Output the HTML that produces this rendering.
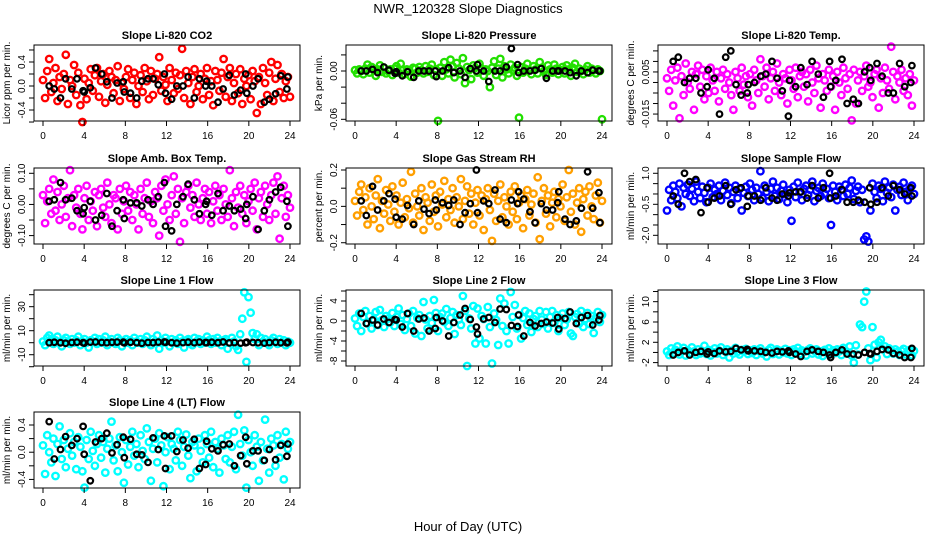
<!DOCTYPE html>
<html><head><meta charset="utf-8"><style>
html,body{margin:0;padding:0;background:#fff;}
svg{display:block;font-family:"Liberation Sans",sans-serif;}
</style></head><body>
<svg id="chart" width="936" height="540" viewBox="0 0 936 540" xmlns="http://www.w3.org/2000/svg">
<rect width="936" height="540" fill="#fff"/>
<text x="468" y="13" text-anchor="middle" font-size="13">NWR_120328  Slope Diagnostics</text>
<text x="468" y="531" text-anchor="middle" font-size="13">Hour of Day (UTC)</text>
</svg>
<script>
const xTicks=[0,4,8,12,16,20,24];
const blackHours=[0.6,1.1,1.7,2.2,2.8,3.3,3.9,4.0,4.6,5.1,5.7,6.2,6.7,7.2,7.8,7.9,8.5,9.1,9.6,10.2,10.7,11.2,11.8,11.9,12.5,13.0,13.6,14.1,14.7,15.2,15.8,15.9,16.4,17.0,17.5,18.1,18.6,19.2,19.7,19.8,20.4,20.9,21.5,22.0,22.6,23.1,23.7,23.8];
const titles=["Slope Li-820 CO2","Slope Li-820 Pressure","Slope Li-820 Temp.","Slope Amb. Box Temp.","Slope Gas Stream RH","Slope Sample Flow","Slope Line 1 Flow","Slope Line 2 Flow","Slope Line 3 Flow","Slope Line 4 (LT) Flow"];
const yTitles=["Licor ppm per min.","kPa per min.","degrees C per min.","degrees C per min.","percent per min.","ml/min per min.","ml/min per min.","ml/min per min.","ml/min per min.","ml/min per min."];
const yTickVals=[[-0.6,-0.4,-0.2,0,0.2,0.4,0.6],[-0.06,-0.04,-0.02,0,0.02],[-0.015,-0.01,-0.005,0,0.005,0.01,0.015],[-0.1,-0.05,0,0.05,0.1],[-0.2,-0.1,0,0.1,0.2],[-2,-1.5,-1,-0.5,0,0.5,1],[-20,-10,0,10,20,30,40],[-8,-6,-4,-2,0,2,4,6],[-2,0,2,4,6,8,10,12],[-0.4,-0.2,0,0.2,0.4]];
const yTickLabels=[["-0.4","0.0","0.4"],["-0.06","0.00"],["-0.015","0.005"],["-0.10","0.00","0.10"],["-0.2","0.0","0.2"],["-2.0","-0.5","1.0"],["-10","10","30"],["-8","-4","0","4"],["-2","2","6","10"],["-0.4","0.0","0.4"]];
const yLimits=[[-0.583,0.683],[-0.0621,0.0323],[-0.0183,0.0178],[-0.127,0.117],[-0.207,0.211],[-2.42,1.256],[-19.4,43.9],[-9.0,6.2],[-2.67,12.3],[-0.526,0.591]];
const colors=["#ff0000","#22e000","#ff00ff","#ff00ff","#ff9f00","#0000ff","#00ffff","#00ffff","#00ffff","#00ffff"];
const co2Vals=[0.1,-0.2,0.25,0.45,-0.1,0.05,0.3,-0.25,0.15,-0.05,0.2,0.52,-0.3,0.1,0.0,0.35,-0.15,0.22,-0.32,-0.6,0.12,-0.22,0.05,0.28,-0.08,0.18,0.3,-0.18,0.08,0.2,-0.28,0.02,0.25,0.15,-0.12,0.1,0.33,-0.25,0.05,-0.05,0.15,0.28,-0.2,0.1,0.22,-0.3,0.0,0.18,-0.1,0.3,0.08,-0.22,0.25,-0.15,0.12,0.2,0.48,-0.08,0.15,0.02,-0.25,0.3,0.1,-0.12,0.22,-0.05,0.18,0.62,-0.2,0.25,0.05,-0.3,0.15,0.28,-0.1,0.0,0.2,-0.22,0.12,0.3,-0.15,0.08,-0.32,0.25,0.1,-0.08,0.22,0.45,-0.18,0.15,0.3,-0.25,0.05,0.2,-0.12,0.28,-0.3,0.12,0.0,0.18,-0.22,0.25,0.08,-0.45,0.15,-0.3,0.3,0.05,-0.15,0.22,0.4,-0.25,0.12,0.35,-0.1,0.2,-0.2,0.08,0.15,-0.18];
const pressVals=[0.001,-0.003,0.002,0.0,-0.004,0.003,0.008,-0.002,0.005,0.001,-0.006,0.002,0.007,-0.001,0.004,-0.003,0.0,0.002,-0.005,0.003,0.006,-0.002,0.009,0.001,-0.004,0.002,0.0,-0.007,0.004,0.003,-0.002,0.005,0.001,-0.003,0.006,-0.001,0.003,0.008,-0.005,0.002,-0.062,0.004,-0.006,0.011,0.002,-0.003,0.014,0.006,-0.008,0.01,0.003,-0.004,0.016,-0.015,0.005,0.001,-0.01,0.007,0.004,-0.002,0.009,0.003,-0.006,0.002,0.0,-0.02,0.004,0.012,-0.005,0.003,0.015,-0.008,0.006,0.002,-0.003,0.008,0.001,0.004,-0.006,-0.058,0.005,-0.002,0.003,0.009,0.001,-0.004,0.006,0.002,-0.003,0.011,0.004,0.0,-0.005,0.007,0.002,-0.002,0.008,0.003,-0.004,0.001,0.005,-0.003,0.007,0.002,-0.006,0.004,0.009,-0.001,0.003,0.0,-0.004,0.002,0.006,-0.002,0.003,0.001,-0.003,0.002,0.0,-0.06];
const licorTempVals=[0.002,-0.004,0.006,-0.011,0.001,0.007,-0.017,0.003,-0.006,0.009,0.0,-0.003,0.005,-0.013,0.004,0.008,-0.002,0.006,-0.008,0.003,-0.005,0.007,0.001,-0.004,0.005,-0.009,0.002,0.006,-0.003,0.004,0.0,-0.006,-0.013,0.005,0.002,-0.004,0.007,-0.001,0.003,-0.007,0.004,-0.011,0.006,0.001,-0.005,0.011,0.003,-0.002,0.007,-0.008,0.002,0.005,-0.004,0.009,0.0,-0.006,0.004,0.002,-0.01,0.006,0.001,-0.003,0.007,-0.007,0.003,0.005,-0.002,0.004,-0.009,0.006,0.0,-0.005,0.008,0.002,-0.012,0.004,0.001,-0.004,0.006,-0.002,0.003,-0.013,0.005,0.0,-0.006,0.007,0.002,-0.003,0.004,-0.018,0.006,-0.01,0.001,0.005,-0.004,0.003,0.008,-0.002,0.0,-0.007,0.004,0.006,-0.012,0.002,-0.005,0.007,0.001,-0.003,0.017,0.005,-0.008,0.003,0.0,0.006,-0.004,0.002,-0.006,0.004,-0.011,0.001];
const boxTempVals=[0.03,-0.06,0.01,0.05,-0.03,0.08,-0.02,0.04,-0.05,0.0,0.06,-0.04,0.02,0.11,-0.07,0.03,-0.01,0.05,-0.03,-0.08,0.02,0.06,-0.05,0.01,-0.02,0.04,-0.07,0.03,0.05,-0.01,-0.04,0.07,0.0,-0.06,0.03,0.02,-0.08,0.05,-0.03,0.01,0.06,-0.02,0.04,-0.05,0.03,0.0,-0.08,0.05,-0.03,0.02,0.07,-0.04,0.01,-0.06,0.04,0.02,-0.1,0.06,-0.02,0.08,0.0,-0.05,0.03,0.09,-0.03,0.05,-0.12,0.02,-0.06,0.04,0.06,-0.01,0.03,-0.04,0.07,0.0,-0.05,0.02,0.05,-0.03,0.04,-0.06,0.01,0.06,-0.02,0.03,-0.05,0.05,0.0,-0.04,0.11,0.02,-0.07,0.04,-0.01,0.06,-0.03,0.03,-0.06,0.01,0.05,-0.02,0.07,-0.08,0.02,0.04,-0.04,0.06,0.0,-0.05,0.03,0.07,-0.03,0.09,-0.11,0.02,0.06,-0.04,0.03,-0.01];
const rhVals=[0.03,-0.05,0.08,0.12,-0.02,0.05,-0.1,0.1,0.0,-0.07,0.06,0.15,-0.12,0.03,-0.04,0.09,0.01,-0.08,0.11,-0.03,0.06,-0.1,0.02,0.13,-0.06,0.04,-0.01,0.19,-0.09,0.07,0.0,-0.05,0.1,-0.13,0.05,0.02,-0.08,0.12,-0.03,0.06,-0.11,0.08,0.01,0.14,-0.06,0.04,-0.02,0.1,-0.09,0.05,0.0,0.15,-0.07,0.03,0.11,-0.04,0.07,-0.1,0.02,0.09,-0.05,0.06,-0.13,0.04,0.1,-0.02,-0.19,0.07,-0.08,0.03,0.12,-0.06,0.05,0.0,-0.1,0.08,-0.03,0.11,-0.07,0.02,0.06,-0.12,0.04,0.09,-0.05,0.01,0.07,-0.09,0.16,-0.18,0.03,0.1,-0.04,0.06,-0.11,0.02,0.08,-0.06,0.04,0.0,0.12,-0.08,0.05,0.2,-0.03,0.07,-0.1,0.02,0.1,-0.14,0.04,0.08,-0.05,0.11,0.0,-0.07,0.06,0.13,-0.09,0.03];
const sampleFlowVals=[-0.8,0.2,-0.3,0.4,0.1,-0.2,0.5,-0.6,0.3,0.0,0.45,-0.1,0.25,-0.35,0.6,0.1,-0.2,0.35,0.05,-0.4,0.3,0.5,-0.15,0.2,0.0,0.4,-0.3,0.15,0.55,-0.05,0.3,-0.45,0.1,0.4,-0.2,0.25,-0.8,0.05,0.35,-0.1,0.5,0.2,-0.3,0.3,0.0,1.1,-0.2,0.4,0.1,-0.35,0.25,0.6,-0.1,0.3,-0.25,0.15,0.45,0.0,-0.4,0.2,-1.3,0.35,-0.15,0.55,0.1,-0.3,0.25,0.4,-0.05,0.2,0.6,-0.35,0.15,0.3,-0.1,0.5,0.0,0.25,-0.2,-1.5,0.4,0.1,-0.3,0.35,0.2,-0.1,0.45,0.0,0.3,0.65,-0.25,0.15,0.35,-0.4,0.2,-2.2,-2.05,-2.3,-0.8,0.5,0.1,-0.2,0.4,0.25,-0.35,0.6,0.05,0.3,-0.15,0.45,-0.8,0.2,0.35,-0.05,0.55,0.1,-0.3,0.25,0.4,0.0];
const line1Vals=[1,-2,4,6,3,-1,2,5,0,-3,2,4,1,-1,3,0,2,5,-2,1,3,0,-4,2,1,4,-1,3,0,2,5,-2,1,3,0,-1,4,2,-3,1,3,0,2,-2,4,1,0,3,-1,2,5,0,-2,3,1,6,-5,2,0,4,1,-3,3,0,2,-1,4,1,-4,2,3,0,-2,4,1,3,-1,2,0,5,2,-1,3,0,4,1,-2,2,3,-5,0,4,1,-3,-6,7,20,42,-16,38,25,8,3,7,-2,4,1,3,0,-2,2,4,1,-1,3,0,2,-2,1,0];
const line2Vals=[0.5,-1,1.5,-2,0.8,2,-0.5,1,-1.5,0.3,1.8,-0.8,2.2,0.2,-1.2,1,0.5,-0.3,1.6,-1,0.8,2.5,-0.6,1.2,-1.8,0.4,1.5,-1,2,-2.5,0.6,1.2,-3,3.8,0.3,-1.5,1,-0.4,4.2,1.6,-2,0.8,1.5,-0.2,2.4,-1,0.6,1.8,-2.6,1.2,0.3,-0.8,5,2,-9,0.5,-1.5,3,-4.5,2.5,-3.5,1,0.4,-4.5,2.8,-1.2,-8.5,1.5,0.2,-4.8,4.5,-1,3.5,-2,-4.5,5.8,0.8,3.2,-1.5,1.2,-3.5,0.6,2,-0.8,1.5,-2.2,0.4,1,-1.2,2,0.3,-0.6,1.8,-1.5,0.8,2,-0.4,1.2,-2,0.6,1.5,-0.8,0.3,1.8,-2.5,-3,0.8,1.4,-0.5,2,-1.2,0.4,1.6,-0.6,1,-2.4,0.6,1.8,-0.2,1.2];
const line3Vals=[0.2,-0.5,0.8,-0.2,0.5,1.2,-0.4,0.3,0.9,-0.6,0.4,-0.1,1.0,0.2,-0.5,0.6,-0.2,0.3,1.3,-0.3,0.5,-0.6,0.1,0.8,-0.2,0.4,1.0,-0.5,0.2,0.6,-1.0,0.3,-0.2,0.9,0.1,-0.4,0.5,0.2,0.7,-0.3,0.4,-0.1,0.6,-0.5,0.3,0.8,-0.2,0.1,-0.8,0.5,0.9,-0.3,0.2,0.6,-0.4,0.3,0.0,0.7,-0.2,0.4,-0.5,0.6,0.2,0.9,-0.3,0.4,0.1,-0.6,0.5,0.8,-0.2,0.3,0.6,-0.4,0.2,-0.7,0.5,0.1,0.8,-0.3,0.4,-0.1,0.6,0.2,-0.5,0.9,0.3,-0.2,1.2,-0.6,-2,1.4,-0.4,5.5,5,10,12,0.8,-1.5,5,1.5,-1,2,2.5,0.6,1.2,-0.3,0.8,0.4,-0.2,0.6,0.1,-0.5,0.3,0.7,-0.4,0.2,0.5,-0.6,0.3];
const line4Vals=[0.1,-0.32,0.25,0.0,-0.15,0.2,-0.35,0.12,0.38,-0.1,0.18,-0.22,0.05,0.28,-0.05,0.15,-0.25,0.22,0.08,-0.28,-0.52,0.18,-0.1,0.3,0.02,-0.2,0.12,0.25,-0.08,0.15,-0.3,0.05,0.2,0.45,-0.12,0.1,-0.28,0.22,0.0,-0.45,0.18,-0.18,0.08,0.3,-0.05,0.12,-0.22,0.25,0.02,-0.1,0.35,0.15,-0.42,0.05,0.2,-0.15,0.28,0.1,-0.5,0.0,0.22,-0.25,0.12,0.05,-0.12,0.3,0.18,-0.2,0.08,0.26,-0.05,-0.38,0.15,0.1,-0.28,0.2,0.02,-0.15,0.25,0.12,-0.08,0.3,-0.22,0.15,0.05,-0.3,0.2,0.1,-0.1,0.25,-0.15,0.08,0.3,-0.25,0.55,0.12,-0.05,0.32,-0.52,0.18,0.0,-0.2,0.25,0.08,-0.42,0.15,-0.12,0.48,0.05,-0.3,0.2,0.1,-0.2,0.25,-0.08,0.12,-0.4,0.3,0.05,0.15];
const co2Black=[0.0,-0.05,-0.2,0.12,-0.05,0.12,-0.08,-0.1,-0.03,0.3,0.2,0.07,-0.2,0.05,0.07,-0.1,-0.12,-0.2,0.08,0.12,0.12,0.02,0.2,-0.12,-0.22,0.0,0.0,0.15,-0.2,0.12,0.0,0.08,0.0,-0.27,-0.05,0.18,-0.15,-0.07,0.2,-0.12,0.0,0.12,-0.27,-0.22,-0.13,0.17,-0.05,0.15];
const pressBlack=[0.0,0.0,0.002,-0.002,0.005,0.001,-0.003,-0.001,-0.006,-0.001,-0.008,0.0,0.0,0.0,0.0,-0.007,0.0,0.004,-0.002,0.0,-0.008,0.003,0.0,0.008,0.0,-0.013,0.0,0.0,0.005,0.028,0.008,-0.002,0.0,0.0,0.001,0.003,-0.009,0.0,0.0,0.0,0.0,-0.002,-0.006,0.0,-0.002,0.001,0.0,0.0];
const licorTempBlack=[0.01,0.012,0.0,0.002,0.002,-0.005,-0.002,0.006,0.002,-0.015,0.012,0.015,-0.001,-0.006,-0.005,-0.001,0.0,0.003,0.004,0.01,0.002,-0.004,-0.016,0.001,-0.002,0.007,-0.001,0.01,0.004,-0.007,0.01,-0.002,0.001,0.011,-0.01,-0.008,-0.01,0.005,0.007,0.001,0.009,0.003,-0.005,-0.005,0.009,-0.002,0.0,0.008];
const boxTempBlack=[0.01,0.015,0.07,0.015,0.02,-0.02,-0.03,-0.01,0.01,-0.05,-0.035,0.035,-0.07,-0.02,0.015,-0.045,0.005,0.005,-0.005,0.015,0.0,0.025,0.07,-0.07,-0.085,0.0,0.025,0.065,0.015,-0.03,0.0,0.01,-0.035,0.035,-0.02,-0.005,-0.02,-0.015,-0.045,0.0,0.025,-0.08,-0.02,0.015,0.04,0.055,0.01,-0.07];
const rhBlack=[0.03,-0.05,0.11,-0.02,0.03,0.07,0.04,-0.06,-0.07,0.005,-0.1,0.03,-0.015,-0.04,0.035,-0.02,0.02,0.005,0.035,-0.1,-0.035,0.015,0.2,-0.035,0.03,0.015,0.09,-0.07,-0.09,0.035,0.015,0.08,0.04,-0.03,-0.09,0.015,-0.02,-0.02,0.02,0.08,-0.07,-0.1,-0.08,-0.01,0.19,-0.01,0.075,-0.09];
const sampleFlowBlack=[-0.1,-0.5,1.0,0.6,0.7,-0.9,0.3,-0.4,-0.2,-0.1,0.4,-0.5,0.2,0.3,-0.6,-0.1,-0.1,-0.3,0.3,-0.2,-0.3,0.0,-0.1,0.05,0.1,0.1,-0.2,0.4,-0.2,0.3,1.0,-0.2,-0.1,0.2,-0.4,-0.4,-0.3,-0.4,0.3,-0.5,-0.4,0.3,-0.1,0.4,0.2,0.0,0.3,-0.1];
const line1Black=[0,0.3,0,-0.5,0.2,0.4,0,-0.3,0.5,0.6,0.2,0,0.3,0.5,0.4,-0.2,0.3,0,-0.4,0.2,0,0.5,0.6,0.3,0,-0.3,0.1,0.4,0,0.5,0.2,0,0.3,0,0.6,-0.2,0.1,-0.3,0,0.4,0.2,0,-0.3,0.1,0.3,0,-0.2,0.4];
const line2Black=[1.5,-0.5,0.2,-0.8,0.4,-0.3,0.3,0.2,-1.2,1.5,-2,0.4,0.6,-2,-1.5,0.7,0,-3,-0.3,1.2,2.5,0.3,-1.2,-2.6,0.4,0.7,-0.3,2.4,2.3,-0.9,-1.1,1.2,-3,-0.3,-1,-0.5,-0.2,-0.4,0.7,-1.6,0.5,1.8,-0.5,0.7,1.1,-0.8,0.2,1.1];
const line3Black=[-0.5,0,0.3,-0.5,0,0.2,-0.3,0.1,-0.2,0.3,0.1,0.2,0.8,0.5,0.6,0.3,0.3,0.2,0,-0.1,0.2,0.1,0.3,0,-0.3,-0.8,0.2,0.5,0.2,0,-0.5,-1,0,0.5,-0.3,-0.3,-0.5,0,-0.2,-0.3,0.2,0.6,0.5,-0.2,-0.5,-1,-1,0.8];
const line4Black=[0.45,-0.1,0.04,0.23,0.1,0.2,0.38,-0.03,-0.42,0.15,0.2,0.28,-0.01,0.11,0.22,-0.08,0.19,-0.03,-0.04,-0.15,0.21,0.04,0.24,-0.24,0.24,0.01,0.18,0.06,0.19,-0.24,-0.18,0.16,0.05,0.02,0.11,0.12,-0.2,-0.05,0.22,-0.17,0.02,0.02,-0.12,0.04,-0.11,0.1,-0.06,0.12];
const seriesVals=[co2Vals,pressVals,licorTempVals,boxTempVals,rhVals,sampleFlowVals,line1Vals,line2Vals,line3Vals,line4Vals];
const seriesBlack=[co2Black,pressBlack,licorTempBlack,boxTempBlack,rhBlack,sampleFlowBlack,line1Black,line2Black,line3Black,line4Black];

const NS="http://www.w3.org/2000/svg";
const svg=document.getElementById('chart');
function mk(tag,attrs,parent){const e=document.createElementNS(NS,tag);for(const k in attrs)e.setAttribute(k,attrs[k]);(parent||svg).appendChild(e);return e;}
const colLeft=[34,346,658], rowTop=[45,168,290,412], W=266, H=76;
function slug(s){return s.toLowerCase().replace(/[^a-z0-9]+/g,'-').replace(/^-|-$/g,'');}
for(let p=0;p<10;p++){
  const L=colLeft[p%3], T=rowTop[Math.floor(p/3)], B=T+H, R=L+W;
  const name=slug(titles[p]);
  const g=mk('g',{});
  
  
  const xs=h=>L+9+h/24*247;
  const [y0,y1]=yLimits[p];
  const ys=v=>B-(v-y0)/(y1-y0)*H;
  const t=mk('text',{x:(L+R)/2,y:T-6,'text-anchor':'middle','font-size':11,'font-weight':'bold'},g);
  t.textContent=titles[p];
  
  
  const yt=mk('text',{x:0,y:0,'text-anchor':'middle','font-size':10,transform:`translate(${L-24},${(T+B)/2}) rotate(-90)`},g);
  yt.textContent=yTitles[p];
  
  
  const vals=seriesVals[p];
  const n=vals.length;
  const cg=mk('g',{fill:'none',stroke:colors[p],'stroke-width':2.4},g);
  
  
  vals.forEach((v,i)=>{
    const c=mk('circle',{cx:xs(i*24/(n-1)).toFixed(1),cy:ys(v).toFixed(1),r:3.2},cg);
    
    
  });
  const bg=mk('g',{fill:'none',stroke:'#000','stroke-width':2.2},g);
  
  
  seriesBlack[p].forEach((v,i)=>{
    const c=mk('circle',{cx:xs(blackHours[i]).toFixed(1),cy:ys(v).toFixed(1),r:2.8},bg);
    
    
  });
  const box=mk('rect',{x:L,y:T,width:W,height:H,fill:'none',stroke:'#000','stroke-width':1},g);
  
  
  const xa=mk('g',{},g);
  
  
  mk('line',{x1:xs(0),x2:xs(24),y1:B,y2:B,stroke:'#000'},xa);
  xTicks.forEach(h=>{
    mk('line',{x1:xs(h),x2:xs(h),y1:B,y2:B+5,stroke:'#000'},xa);
    const tl=mk('text',{x:xs(h),y:B+18,'text-anchor':'middle','font-size':10},xa);
    tl.textContent=h;
  });
  const ya=mk('g',{},g);
  
  
  yTickVals[p].forEach(v=>{
    mk('line',{x1:L-5,x2:L,y1:ys(v),y2:ys(v),stroke:'#000'},ya);
  });
  yTickLabels[p].forEach(s=>{
    const yy=ys(parseFloat(s));
    const tl=mk('text',{x:0,y:0,'text-anchor':'middle','font-size':10,transform:`translate(${L-9},${yy}) rotate(-90)`},ya);
    tl.textContent=s;
  });
}
</script>
</body></html>
